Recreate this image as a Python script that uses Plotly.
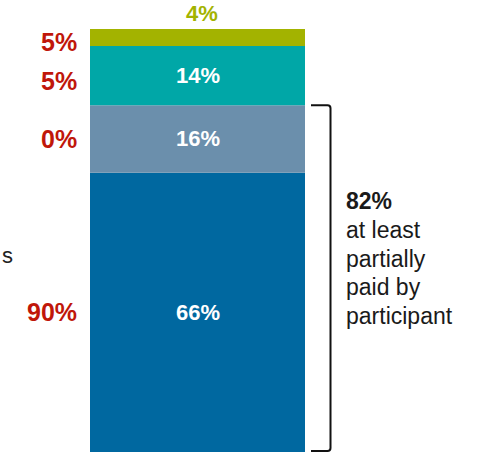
import plotly.graph_objects as go

# Stacked shares (bottom to top)
segments = ["Fully paid", "Partially paid", "Employer paid", "Other"]
shares = [66, 16, 14, 4]
colors = ["#0068A0", "#6B8FAC", "#00A7A7", "#A3B300"]
label_colors = ["white", "white", "white", "#A3B300"]

# Comparison shares shown to the left of the bar
compare_shares = [90, 0, 5, 5]

bracket_total = 82
bracket_lines = ["at least", "partially", "paid by", "participant"]

FONT = "Liberation Sans, Arial, sans-serif"
W, H = 478, 452
BAR_LEFT_PX, BAR_RIGHT_PX = 90, 305
px_per_unit = BAR_RIGHT_PX - BAR_LEFT_PX
x0 = -0.5 - BAR_LEFT_PX / px_per_unit
x1 = 0.5 + (W - BAR_RIGHT_PX) / px_per_unit
y_scale = (H - 29) / 100.0
y_top = H / y_scale


def px_x(p):
    return x0 + p / px_per_unit


def px_y(p):
    return (H - p) / y_scale


fig = go.Figure()
bases = []
acc = 0
for name, v, c in zip(segments, shares, colors):
    bases.append(acc)
    fig.add_trace(go.Bar(
        x=[0], y=[v], base=[acc], width=1, name=name,
        marker=dict(color=c, line=dict(width=0)),
        hoverinfo="skip", showlegend=False,
    ))
    acc += v

annotations = []
# value labels on / above the bar
for i, (v, b, lc) in enumerate(zip(shares, bases, label_colors)):
    if i == len(shares) - 1:
        annotations.append(dict(x=0.02, y=b + v, yanchor="bottom", yshift=1,
                                text=f"<b>{v}%</b>", showarrow=False,
                                font=dict(family=FONT, size=22, color=lc)))
    else:
        annotations.append(dict(x=0, y=b + v / 2, text=f"<b>{v}%</b>",
                                showarrow=False,
                                font=dict(family=FONT, size=22, color=lc)))

# comparison labels on the left
for i, (cv, b, v) in enumerate(zip(compare_shares, bases, shares)):
    yc = b + v / 2
    shift = -5 if i >= 2 else 0
    annotations.append(dict(x=px_x(79), y=yc, yshift=shift, xanchor="right",
                            text=f"<b>{cv}%</b>", showarrow=False,
                            font=dict(family=FONT, size=25, color="#C0170A")))

annotations.append(dict(x=px_x(1), y=px_y(255), xanchor="left", text="s",
                        showarrow=False, borderpad=0,
                        font=dict(family=FONT, size=22, color="#222222")))

# bracket text
tx = px_x(344)
annotations.append(dict(x=tx, y=px_y(201), xanchor="left",
                        text=f"<b>{bracket_total}%</b>", showarrow=False,
                        font=dict(family=FONT, size=23, color="#1a1a1a")))
for k, line in enumerate(bracket_lines):
    annotations.append(dict(x=tx, y=px_y(230 + 28.7 * k), xanchor="left",
                            text=line, showarrow=False,
                            font=dict(family=FONT, size=23, color="#1a1a1a")))

# bracket spanning the bottom two segments
bx_l, bx_r = px_x(311), px_x(330.5)
by_t, by_b = bracket_total, px_y(451)
r = px_x(333.5) - bx_r
ry = 3 / y_scale
path = (f"M {bx_l} {by_t} L {bx_r - r} {by_t} Q {bx_r} {by_t} {bx_r} {by_t - ry} "
        f"L {bx_r} {by_b + ry} Q {bx_r} {by_b} {bx_r - r} {by_b} L {bx_l} {by_b}")

fig.update_layout(
    width=W, height=H,
    margin=dict(l=0, r=0, t=0, b=0),
    paper_bgcolor="white", plot_bgcolor="white",
    barmode="overlay",
    xaxis=dict(range=[x0, x1], visible=False, fixedrange=True),
    yaxis=dict(range=[0, y_top], visible=False, fixedrange=True),
    annotations=annotations,
    shapes=[dict(type="path", path=path, line=dict(color="#111111", width=2))],
)

fig.write_html("out.html")
